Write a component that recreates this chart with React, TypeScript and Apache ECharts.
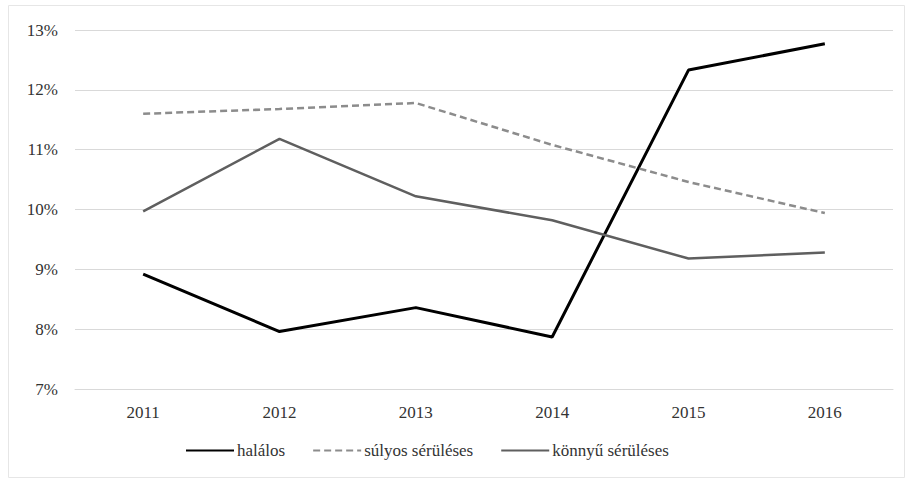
import React, { useEffect, useRef } from "react";
import * as echarts from "echarts";

const years = ["2011", "2012", "2013", "2014", "2015", "2016"];
const halalos = [8.92, 7.96, 8.36, 7.87, 12.33, 12.77];
const sulyos = [11.6, 11.68, 11.78, 11.08, 10.46, 9.94];
const konnyu = [9.97, 11.18, 10.22, 9.82, 9.18, 9.28];
const seriesNames = ["halálos", "súlyos sérüléses", "könnyű sérüléses"];

const FONT = "Liberation Serif";

export default function App() {
  const ref = useRef<HTMLDivElement>(null);
  useEffect(() => {
    if (!ref.current) return;
    const chart = echarts.init(ref.current, undefined, { renderer: "svg" });
    chart.setOption({
      animation: false,
      backgroundColor: "#ffffff",
      textStyle: { fontFamily: FONT },
      graphic: [
        {
          type: "rect",
          shape: { x: 8.5, y: 5.5, width: 896, height: 472 },
          style: { fill: "none", stroke: "#e6e6e6", lineWidth: 1 },
          silent: true,
        },
      ],
      grid: { left: 75, right: 20, top: 30, bottom: 91, containLabel: false },
      xAxis: {
        type: "category",
        data: years,
        boundaryGap: true,
        axisLine: { show: true, lineStyle: { color: "#d9d9d9", width: 1 } },
        axisTick: { show: false },
        axisLabel: {
          color: "#333333",
          fontFamily: FONT,
          fontSize: 17,
          margin: 15,
        },
      },
      yAxis: {
        type: "value",
        min: 7,
        max: 13,
        interval: 1,
        axisLine: { show: false },
        axisTick: { show: false },
        splitLine: { lineStyle: { color: "#d9d9d9", width: 1 } },
        axisLabel: {
          formatter: (v: number) => v + "%",
          color: "#333333",
          fontFamily: FONT,
          fontSize: 17,
          margin: 17,
        },
      },
      legend: {
        bottom: 16,
        left: 180,
        itemWidth: 48,
        itemHeight: 10,
        itemGap: 27,
        itemStyle: { opacity: 0 },
        textStyle: {
          color: "#333333",
          fontFamily: FONT,
          fontSize: 17,
          padding: [0, 0, 0, -2],
        },
        data: seriesNames,
      },
      series: [
        {
          name: seriesNames[0],
          type: "line",
          data: halalos,
          symbol: "none",
          lineStyle: { color: "#000000", width: 3 },
          itemStyle: { color: "#000000" },
        },
        {
          name: seriesNames[1],
          type: "line",
          data: sulyos,
          symbol: "none",
          lineStyle: { color: "#8c8c8c", width: 2.5, type: [7, 4] },
          itemStyle: { color: "#8c8c8c" },
        },
        {
          name: seriesNames[2],
          type: "line",
          data: konnyu,
          symbol: "none",
          lineStyle: { color: "#5f5f5f", width: 2.5 },
          itemStyle: { color: "#5f5f5f" },
        },
      ],
    });
    return () => chart.dispose();
  }, []);
  return (
    <div
      ref={ref}
      style={{ position: "absolute", left: 0, top: 0, width: 913, height: 480 }}
    />
  );
}
